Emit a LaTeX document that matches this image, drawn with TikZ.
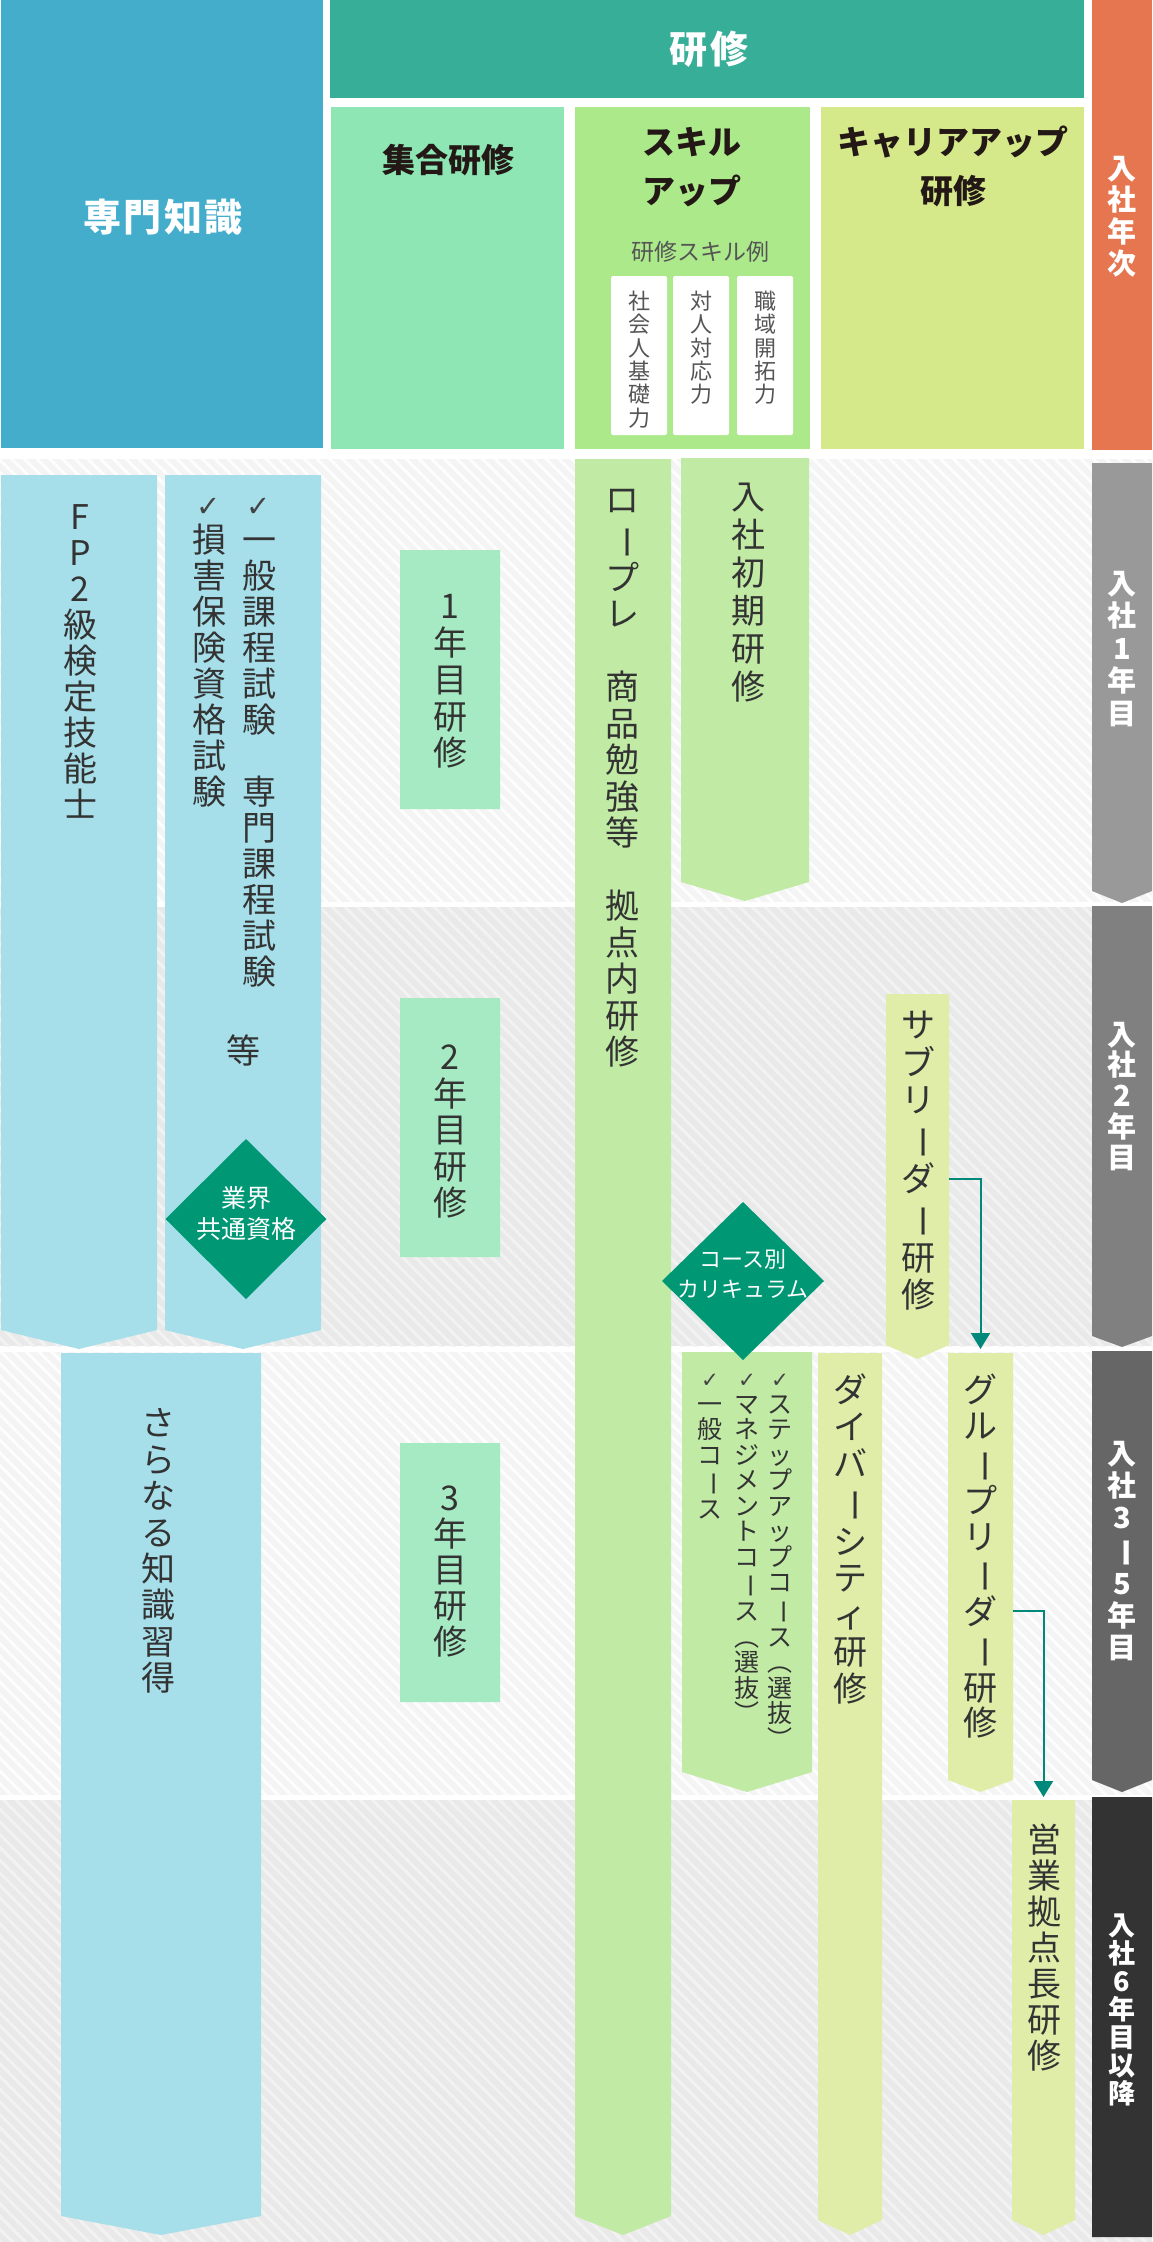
\documentclass[tikz,border=0pt]{standalone}
\usepackage{fontspec}
\setmainfont{Noto Sans CJK JP}
\newfontfamily\dejavu{DejaVu Sans}
\usepackage{graphicx}
\usetikzlibrary{shapes.geometric,arrows.meta,patterns.meta}

\definecolor{senmon}{HTML}{43ADCB}
\definecolor{kenshu}{HTML}{37AE97}
\definecolor{shugo}{HTML}{8DE6B3}
\definecolor{skillh}{HTML}{ABE98B}
\definecolor{careerh}{HTML}{D5E98A}
\definecolor{nenji}{HTML}{E5764F}
\definecolor{aqua}{HTML}{A6DFEA}
\definecolor{mint}{HTML}{A6EAC3}
\definecolor{lgreen}{HTML}{C1EAA5}
\definecolor{ygreen}{HTML}{DFEDA9}
\definecolor{diam}{HTML}{009775}
\definecolor{arrc}{HTML}{00897B}
\definecolor{txt}{HTML}{333333}
\definecolor{chkc}{HTML}{444444}
\definecolor{skc}{HTML}{555555}
\definecolor{htxt}{HTML}{231815}
\definecolor{rowA}{HTML}{F4F4F4}
\definecolor{rowAs}{HTML}{FDFDFD}
\definecolor{rowB}{HTML}{E9E9E9}
\definecolor{rowBs}{HTML}{F2F2F2}
\definecolor{yr1}{HTML}{999999}
\definecolor{yr2}{HTML}{808080}
\definecolor{yr3}{HTML}{666666}
\definecolor{yr4}{HTML}{333333}

\ExplSyntaxOn
\dim_new:N \l_vt_pitch_dim
\cs_new_protected:Npn \vt_char:n #1
  {
    \str_case:nnF {#1}
      {
        {ー}{\rotatebox[origin=c]{-90}{ー}}
        {（}{\rotatebox[origin=c]{-90}{（}}
        {）}{\rotatebox[origin=c]{-90}{）}}
        {*}{}
        {✓}{{\color{chkc}\dejavu\scalebox{0.85}{✓}}}
      }
      {#1}
  }
\cs_new_protected:Npn \vt_slot:n #1
  {
    \hbox:n
      {
        \vrule~height~\dim_eval:n {0.5\l_vt_pitch_dim + 0.38em}~
               depth~\dim_eval:n {0.5\l_vt_pitch_dim - 0.38em}~width~0pt
        \hbox_to_wd:nn {0pt} { \hss \vt_char:n {#1} \hss }
      }
  }
\NewDocumentCommand\vstack{mm}
  {
    \dim_set:Nn \l_vt_pitch_dim {#1}
    \vbox:n { \offinterlineskip \tl_map_inline:nn {#2} { \vt_slot:n {##1} } }
  }
\ExplSyntaxOff

% name, colour, x1, y1, x2, y2 (flat bottom), tip depth
\newcommand\pbox[7]{%
  \node[box,minimum width={#5-#3},minimum height={#6-#4},anchor=north west] (#1) at (#3,#4) {};
  \fill[#2] (#1.north west) -- (#1.north east) -- (#1.south east) -- ([yshift=-#7pt]#1.south) -- (#1.south west) -- cycle;}
% name, x, y of first slot centre, pitch, font size, extra style, text
\newcommand\vtext[7]{%
  \node[vt,#6,anchor=north] (#1) at (#2,{#3-#4/2}) {\fontsize{#5}{#5}\selectfont\vstack{#4pt}{#7}};}

\begin{document}
\begin{tikzpicture}[x=1pt,y=-1pt,
  box/.style={rectangle,inner sep=0pt,outer sep=0pt,draw=none},
  vt/.style={inner sep=0pt,outer sep=0pt,text=txt},
  yt/.style={text=white,font=\bfseries},
  hd/.style={inner sep=0pt,text=htxt,align=center,font=\bfseries\fontsize{33}{49}\selectfont},
  hw/.style={inner sep=0pt,text=white,font=\bfseries\fontsize{38}{40}\selectfont\addfontfeatures{LetterSpace=6}},
  dia/.style={diamond,fill=diam,inner sep=0pt,outer sep=0pt},
  dtx/.style={text=white,align=center,inner sep=0pt},
  arr/.style={draw=arrc,line width=2pt,-{Triangle[width=19pt,length=16pt]}},
  skb/.style={box,fill=white,rounded corners=2pt},
  hatchA/.style={pattern={Lines[angle=-45,distance=9pt,line width=3pt]},pattern color=rowAs},
  hatchB/.style={pattern={Lines[angle=-45,distance=9pt,line width=3pt]},pattern color=rowBs}]
\useasboundingbox (0,0) rectangle (1152,2242);
\fill[white] (0,0) rectangle (1152,2242);

% ---- row bands
\fill[rowA] (0,459) rectangle (1152,902);
\fill[hatchA] (0,459) rectangle (1152,902);
\fill[rowB] (0,907) rectangle (1152,1346);
\fill[hatchB] (0,907) rectangle (1152,1346);
\fill[rowA] (0,1352) rectangle (1152,1795);
\fill[hatchA] (0,1352) rectangle (1152,1795);
\fill[rowB] (0,1800) rectangle (1152,2242);
\fill[hatchB] (0,1800) rectangle (1152,2242);

% ---- header
\node[box,fill=senmon,minimum width=322,minimum height=448,anchor=north west] (hSen) at (1,0) {};
\node[hw] (hSenT) at (163,217) {専門知識};
\node[box,fill=kenshu,minimum width=754,minimum height=98,anchor=north west] (hKen) at (330,0) {};
\node[hw] (hKenT) at (709,49) {研修};
\node[box,fill=shugo,minimum width=233,minimum height=342,anchor=north west] (hShu) at (331,107) {};
\node[hd] (hShuT) at (448,160) {集合研修};
\node[box,fill=skillh,minimum width=235,minimum height=342,anchor=north west] (hSki) at (575,107) {};
\node[hd] (hSkiT) at (692,167) {スキル\\アップ};
\node[box,fill=careerh,minimum width=263,minimum height=342,anchor=north west] (hCar) at (821,107) {};
\node[hd] (hCarT) at (953,166) {キャリアアップ\\研修};
\node[box,fill=nenji,minimum width=60,minimum height=450,anchor=north west] (hNen) at (1092,0) {};
\vtext{hNenT}{1122}{168}{31.7}{29}{yt}{入社年次}
\node[vt,text=skc,font=\fontsize{23}{23}\selectfont] (hEx) at (700,252) {研修スキル例};
\node[skb,minimum width=56,minimum height=159,anchor=north west] (sk1) at (611,276) {};
\node[skb,minimum width=56,minimum height=159,anchor=north west] (sk2) at (673,276) {};
\node[skb,minimum width=56,minimum height=159,anchor=north west] (sk3) at (737,276) {};
\vtext{sk1T}{639}{301}{23.4}{22}{text=skc}{社会人基礎力}
\vtext{sk2T}{701}{301}{23.4}{22}{text=skc}{対人対応力}
\vtext{sk3T}{765}{301}{23.4}{22}{text=skc}{職域開拓力}

% ---- body columns
\pbox{cFP}{aqua}{1}{475}{157}{1330}{19}
\pbox{cSK}{aqua}{165}{475}{321}{1330}{19}
\pbox{cSara}{aqua}{61}{1353}{261}{2216}{19}
\pbox{n1}{mint}{400}{550}{500}{809}{0}
\pbox{n2}{mint}{400}{998}{500}{1257}{0}
\pbox{n3}{mint}{400}{1443}{500}{1702}{0}
\pbox{cRP}{lgreen}{575}{459}{671}{2216}{19}
\pbox{cShoki}{lgreen}{681}{458}{809}{882}{19}
\pbox{cCourse}{lgreen}{682}{1352}{812}{1772}{20}
\pbox{cDiv}{ygreen}{818}{1353}{882}{2220}{15}
\pbox{cSub}{ygreen}{886}{994}{949}{1345}{14}
\pbox{cGL}{ygreen}{948}{1353}{1013}{1780}{12}
\pbox{cEig}{ygreen}{1012}{1800}{1075}{2220}{15}
\pbox{y1}{yr1}{1092}{463}{1152}{891}{12}
\pbox{y2}{yr2}{1092}{906}{1152}{1336}{11}
\pbox{y3}{yr3}{1092}{1351}{1152}{1780}{12}
\pbox{y4}{yr4}{1092}{1797}{1152}{2237}{0}

% ---- diamonds
\node[dia,minimum width=161,minimum height=160] (dA) at (246,1219) {};
\node[dtx,font=\fontsize{25}{31}\selectfont] (dAt) at (246,1214) {業界\\共通資格};
\node[dia,minimum width=162,minimum height=158] (dB) at (743,1281) {};
\node[dtx,font=\fontsize{22}{30}\selectfont] (dBt) at (743,1274) {コース別\\カリキュラム};

% ---- texts
\vtext{tFP}{80}{517}{36}{34}{}{FP2級検定技能士}
\vtext{tSK1}{259}{504}{36}{34}{}{✓一般課程試験*専門課程試験}
\vtext{tSK2}{209}{504}{36}{34}{}{✓損害保険資格試験}
\node[vt,font=\fontsize{34}{34}\selectfont] (tSK3) at (243,1050) {等};
\vtext{tN1}{450}{606}{36.75}{34}{}{1年目研修}
\vtext{tN2}{450}{1057}{36.5}{34}{}{2年目研修}
\vtext{tN3}{450}{1498}{36}{34}{}{3年目研修}
\vtext{tSara}{158}{1423}{36.4}{34}{}{さらなる知識習得}
\vtext{tRP}{622}{500}{36.5}{34}{}{ロープレ*商品勉強等*拠点内研修}
\vtext{tShoki}{748}{497}{38}{34}{}{入社初期研修}
\vtext{tC1}{780}{1378}{25.5}{25}{}{✓ステップアップコース（選抜）}
\vtext{tC2}{747}{1378}{25.5}{25}{}{✓マネジメントコース（選抜）}
\vtext{tC3}{710}{1378}{25.5}{25}{}{✓一般コース}
\vtext{tDiv}{850}{1390}{36.75}{34}{}{ダイバーシティ研修}
\vtext{tSub}{918}{1025}{37.4}{34}{}{サブリーダー研修}
\vtext{tGL}{980}{1390}{35.3}{34}{}{グループリーダー研修}
\vtext{tEig}{1044}{1840}{36}{34}{}{営業拠点長研修}
\vtext{tY1}{1122}{583}{32.5}{29}{yt}{入社1年目}
\vtext{tY2}{1122}{1034}{30.75}{29}{yt}{入社2年目}
\vtext{tY3}{1122}{1453}{32}{29}{yt}{入社3ー5年目}
\vtext{tY4}{1122}{1925}{28}{27}{yt}{入社6年目以降}

% ---- connectors
\draw[arr] ([yshift=-9.5pt]cSub.east) -| ([yshift=4pt]cGL.north);
\draw[arr] ([yshift=-44.5pt]cGL.east) -| ([yshift=3pt]cEig.north);
\end{tikzpicture}
\end{document}
